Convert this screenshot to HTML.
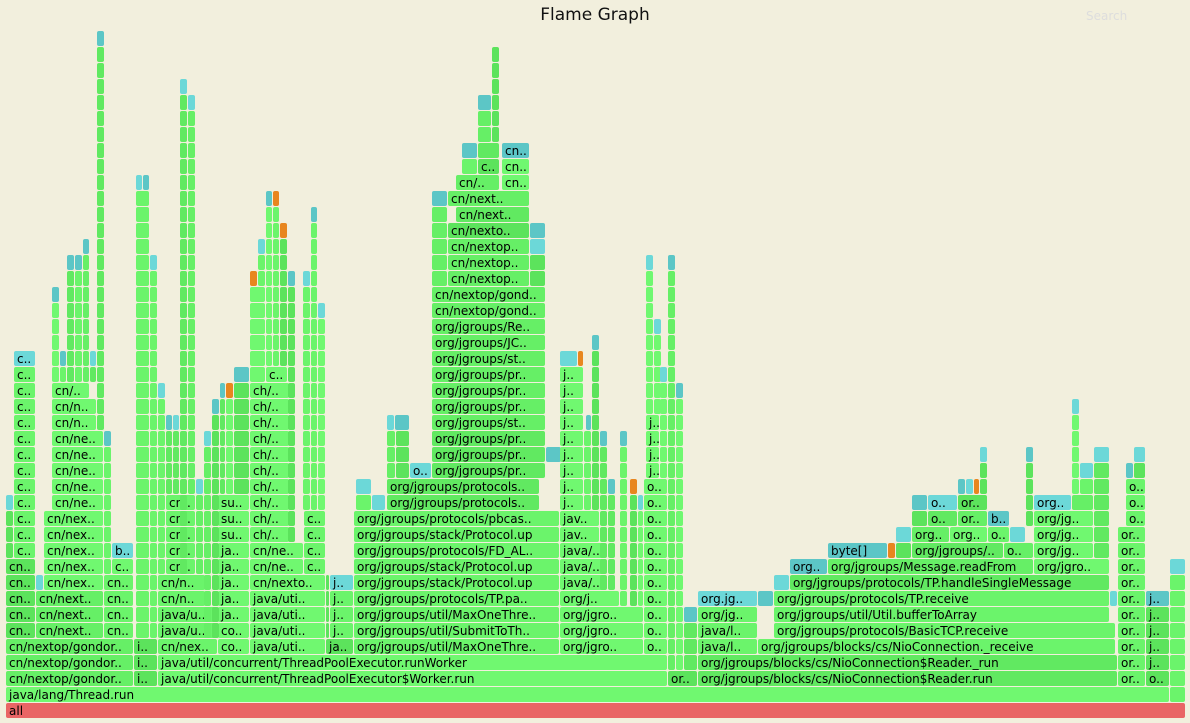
<!DOCTYPE html>
<html><head><meta charset="utf-8">
<style>
html,body{margin:0;padding:0;}
body{width:1190px;height:723px;background:#f2efdd;position:relative;overflow:hidden;font-family:"DejaVu Sans","Liberation Sans",sans-serif;}
#title{position:absolute;left:0;width:1190px;top:5px;text-align:center;font-size:17px;color:#111;}
#search{position:absolute;left:1086px;top:9px;font-size:12px;color:#ddd;}
.f{position:absolute;height:15px;border-radius:2px;font-size:12px;line-height:16px;color:#000;overflow:hidden;white-space:nowrap;box-sizing:border-box;padding-left:3px;}
</style></head>
<body>
<div id="title">Flame Graph</div>
<div id="search">Search</div>
<div id="chart"></div>
<script>
// frames: [startSample, endSample, levelFrom, levelTo, label, colorType]
const baseFrames = [
[6,1186,0,0,'all','r'],
[6,1170,1,1,'java/lang/Thread.run','g'],
[1170,1186,1,8,'','g'],[1170,1186,9,9,'','c'],
[6,134,2,4,'cn/nextop/gondor..','g'],
[134,158,2,4,'i..','g'],
[158,668,2,2,'java/util/concurrent/ThreadPoolExecutor$Worker.run','g'],
[158,668,3,3,'java/util/concurrent/ThreadPoolExecutor.runWorker','g'],
[668,698,2,2,'or..','g'],
[698,1118,2,2,'org/jgroups/blocks/cs/NioConnection$Reader.run','g'],
[698,1118,3,3,'org/jgroups/blocks/cs/NioConnection$Reader._run','g']
];
const leftFrames = [
[6,36,5,9,'cn..','g'],[6,14,10,12,'','g'],[6,14,13,13,'','c'],
[14,36,10,21,'c..','g'],[14,36,22,22,'c..','c'],
[36,104,5,7,'cn/next..','g'],[36,44,8,8,'','c'],[44,104,8,12,'cn/nex..','g'],
[52,104,13,17,'cn/ne..','g'],[52,97,18,19,'cn/n..','g'],[52,90,20,20,'cn/..','g'],
[52,60,21,25,'','g'],[52,60,26,26,'','c'],[60,67,21,21,'','g'],[60,67,22,22,'','c'],
[67,75,21,27,'','g'],[67,75,28,28,'','c'],[75,83,21,27,'','g'],[75,83,28,28,'','c'],
[83,90,21,28,'','g'],[83,90,29,29,'','c'],[90,97,21,21,'','g'],[90,97,22,22,'','c'],
[97,105,18,41,'','g'],[97,105,42,42,'','c'],
[104,134,5,8,'cn..','g'],[104,112,9,16,'','g'],[104,112,17,17,'','c'],
[112,134,9,9,'c..','g'],[112,134,10,10,'b..','c'],
[136,150,5,32,'','g'],[136,143,33,33,'','c'],[143,150,33,33,'','c'],
[150,158,5,27,'','g'],[150,158,28,28,'','c'],
[158,218,4,4,'cn/nex..','g'],[158,218,5,6,'java/u..','g'],[158,206,7,8,'cn/n..','g'],
[166,196,9,13,'cn..','g'],[158,166,9,19,'','g'],[158,166,20,20,'','c'],
[166,173,14,17,'','g'],[166,173,18,18,'','c'],[173,180,14,17,'','g'],[173,180,18,18,'','c'],
[180,188,9,38,'','g'],[180,188,39,39,'','c'],[188,196,14,37,'','g'],[188,196,38,38,'','c'],
[196,204,9,13,'','g'],[196,204,14,14,'','c'],
[218,250,4,5,'co..','g'],[218,250,6,10,'ja..','g'],[218,250,11,13,'su..','g'],
[204,212,5,16,'','g'],[204,212,17,17,'','c'],[212,220,5,18,'','g'],[212,220,19,19,'','c'],
[220,226,14,19,'','g'],[220,226,20,20,'','c'],[226,234,14,19,'','g'],[226,234,20,20,'','o'],
[234,250,14,20,'','g'],[234,250,21,21,'','c'],
[250,326,4,7,'java/uti..','g'],[250,326,8,8,'cn/nexto..','g'],[250,304,9,10,'cn/ne..','g'],
[250,290,11,20,'ch/..','g'],[250,266,21,26,'','g'],[250,258,27,27,'','o'],
[258,266,27,28,'','g'],[258,266,29,29,'','c'],[266,288,21,21,'c..','g'],
[266,273,22,31,'','g'],[266,273,32,32,'','c'],[273,280,22,31,'','g'],[273,280,32,32,'','o'],
[280,288,22,29,'','g'],[280,288,30,30,'','o'],[288,296,11,26,'','g'],[288,296,27,27,'','c'],
[304,326,9,12,'c..','g'],[303,311,13,26,'','g'],[303,311,27,27,'','c'],
[311,318,13,30,'','g'],[311,318,31,31,'','c'],[318,326,13,24,'','g'],[318,326,25,25,'','c'],
[326,354,4,4,'ja..','g'],[326,330,5,8,'','g'],[330,354,5,7,'j..','g'],[330,354,8,8,'j..','c']
];
const midFrames = [
[354,560,4,4,'org/jgroups/util/MaxOneThre..','g'],
[354,560,5,5,'org/jgroups/util/SubmitToTh..','g'],
[354,560,6,6,'org/jgroups/util/MaxOneThre..','g'],
[354,560,7,7,'org/jgroups/protocols/TP.pa..','g'],
[354,560,8,9,'org/jgroups/stack/Protocol.up','g'],
[354,560,10,10,'org/jgroups/protocols/FD_AL..','g'],
[354,560,11,11,'org/jgroups/stack/Protocol.up','g'],
[354,560,12,12,'org/jgroups/protocols/pbcas..','g'],
[356,372,13,13,'','g'],[372,386,13,13,'','c'],[387,540,13,14,'org/jgroups/protocols..','g'],
[356,372,14,14,'','c'],[387,396,15,17,'','g'],[396,410,15,17,'','g'],[410,432,15,15,'o..','c'],
[387,395,18,18,'','c'],[395,410,18,18,'','c'],
[432,546,15,17,'org/jgroups/pr..','g'],[546,562,16,16,'','c'],
[432,546,18,18,'org/jgroups/st..','g'],[432,546,19,21,'org/jgroups/pr..','g'],
[432,546,22,22,'org/jgroups/st..','g'],[432,546,23,23,'org/jgroups/JC..','g'],
[432,546,24,24,'org/jgroups/Re..','g'],[432,546,25,26,'cn/nextop/gond..','g'],
[432,448,27,31,'','g'],[448,530,27,29,'cn/nextop..','g'],[530,546,27,28,'','g'],
[530,546,29,29,'','c'],[448,530,30,30,'cn/nexto..','g'],[530,546,30,30,'','c'],
[456,530,31,31,'cn/next..','g'],[432,448,32,32,'','c'],[448,530,32,32,'cn/next..','g'],
[456,500,33,33,'cn/..','g'],[502,530,33,34,'cn..','g'],[462,478,34,34,'','g'],
[478,500,34,34,'c..','g'],[462,478,35,35,'','c'],[478,500,35,35,'','g'],[502,530,35,35,'cn..','c'],
[478,492,36,37,'','g'],[478,492,38,38,'','c'],[492,500,36,41,'','g']
];
const rightFrames = [
[560,644,4,6,'org/jgro..','g'],[560,620,7,7,'org/j..','g'],[560,606,8,10,'java/..','g'],
[560,600,11,12,'jav..','g'],[560,584,13,21,'j..','g'],[560,578,22,22,'','c'],[578,584,22,22,'','o'],
[584,592,13,17,'','g'],[586,592,18,18,'','c'],[592,600,13,22,'','g'],[592,600,23,23,'','c'],
[600,608,8,16,'','g'],[600,608,17,17,'','c'],[608,616,8,13,'','g'],[608,616,14,14,'','c'],
[620,628,7,16,'','g'],[620,628,17,17,'','c'],[630,638,7,13,'','g'],[630,638,14,14,'','o'],
[638,644,7,12,'','g'],[638,644,13,13,'','c'],
[644,668,4,14,'o..','g'],[646,660,15,18,'j..','g'],[646,654,19,27,'','g'],[646,654,28,28,'','c'],
[654,662,19,23,'','g'],[654,662,24,24,'','c'],[660,668,15,20,'','g'],[660,668,21,21,'','c'],
[668,676,3,27,'','g'],[668,676,28,28,'','c'],[676,684,3,19,'','g'],[676,684,20,20,'','c'],
[684,698,3,5,'','g'],[684,698,6,6,'','c'],
[698,758,4,5,'java/l..','g'],[698,758,6,6,'org/jg..','g'],[698,758,7,7,'org.jg..','c'],[758,774,7,7,'','c'],
[758,1116,4,4,'org/jgroups/blocks/cs/NioConnection._receive','g'],
[774,1116,5,5,'org/jgroups/protocols/BasicTCP.receive','g'],
[774,1110,6,6,'org/jgroups/util/Util.bufferToArray','g'],
[774,1110,7,7,'org/jgroups/protocols/TP.receive','g'],[1110,1118,7,7,'','c'],
[774,790,8,8,'','c'],[790,1110,8,8,'org/jgroups/protocols/TP.handleSingleMessage','g'],
[790,828,9,9,'org..','c'],[828,1034,9,9,'org/jgroups/Message.readFrom','g'],[1034,1110,9,9,'org/jgro..','g'],
[828,888,10,10,'byte[]','c'],[888,896,10,10,'','o'],[896,912,10,10,'','g'],
[912,1004,10,10,'org/jgroups/..','g'],[1004,1034,10,10,'o..','g'],[1034,1094,10,12,'org/jg..','g'],[1094,1110,10,15,'','g'],
[896,912,11,11,'','c'],[912,950,11,11,'org..','g'],[950,988,11,11,'org..','g'],[988,1010,11,11,'o..','g'],[1010,1026,11,11,'','c'],
[912,928,12,12,'','g'],[928,958,12,12,'o..','g'],[958,988,12,12,'or..','g'],[988,1010,12,12,'b..','c'],
[912,928,13,13,'','c'],[928,958,13,13,'o..','c'],[958,988,13,13,'or..','g'],[1034,1072,13,13,'org..','c'],[1072,1094,13,13,'','g'],
[958,966,14,14,'','c'],[966,974,14,14,'','c'],[974,980,14,14,'','o'],[980,988,14,15,'','g'],[980,988,16,16,'','c'],
[1026,1034,12,15,'','g'],[1026,1034,16,16,'','c'],
[1072,1080,14,18,'','g'],[1072,1080,19,19,'','c'],[1080,1094,14,14,'','g'],[1080,1094,15,15,'','c'],[1094,1110,16,16,'','c'],
[1118,1146,2,11,'or..','g'],[1126,1146,12,14,'o..','g'],[1126,1134,15,15,'','c'],[1134,1146,15,15,'','g'],[1134,1146,16,16,'','c'],
[1146,1170,2,2,'o..','g'],[1146,1170,3,6,'j..','g'],[1146,1170,7,7,'j..','c']
];
const greens = ['#66ef66','#5ce35c','#70f870','#61e961','#6bf46b'];
const cyans = ['#6cd8d8','#5cc6c6'];
const totalSamples = 1190;
const chartLeft = 0, chartWidth = 1190, baseTop = 703, rowH = 16;
function xs(v){ return chartLeft + v / totalSamples * chartWidth; }
function ys(level){ return baseTop - level * rowH; }
const chart = document.getElementById('chart');
let idx = 0;
[baseFrames, leftFrames, midFrames, rightFrames].forEach(function(group){
  group.forEach(function(fr){
    for (let l = fr[2]; l <= fr[3]; l++) {
      idx++;
      const el = document.createElement('div');
      
      
      el.className = 'f';
      const x0 = xs(fr[0]), x1 = xs(fr[1]);
      el.style.left = x0 + 'px';
      el.style.width = Math.max(1, x1 - x0 - 1) + 'px';
      el.style.top = ys(l) + 'px';
      let c;
      if (fr[5] === 'r') c = '#e96565';
      else if (fr[5] === 'o') c = '#e8861f';
      else if (fr[5] === 'c') c = cyans[(idx * 3 + l) % cyans.length];
      else c = greens[(idx * 7 + l * 3) % greens.length];
      el.style.background = c;
      el.textContent = fr[4];
      chart.appendChild(el);
    }
  });
});
</script>
</body></html>
